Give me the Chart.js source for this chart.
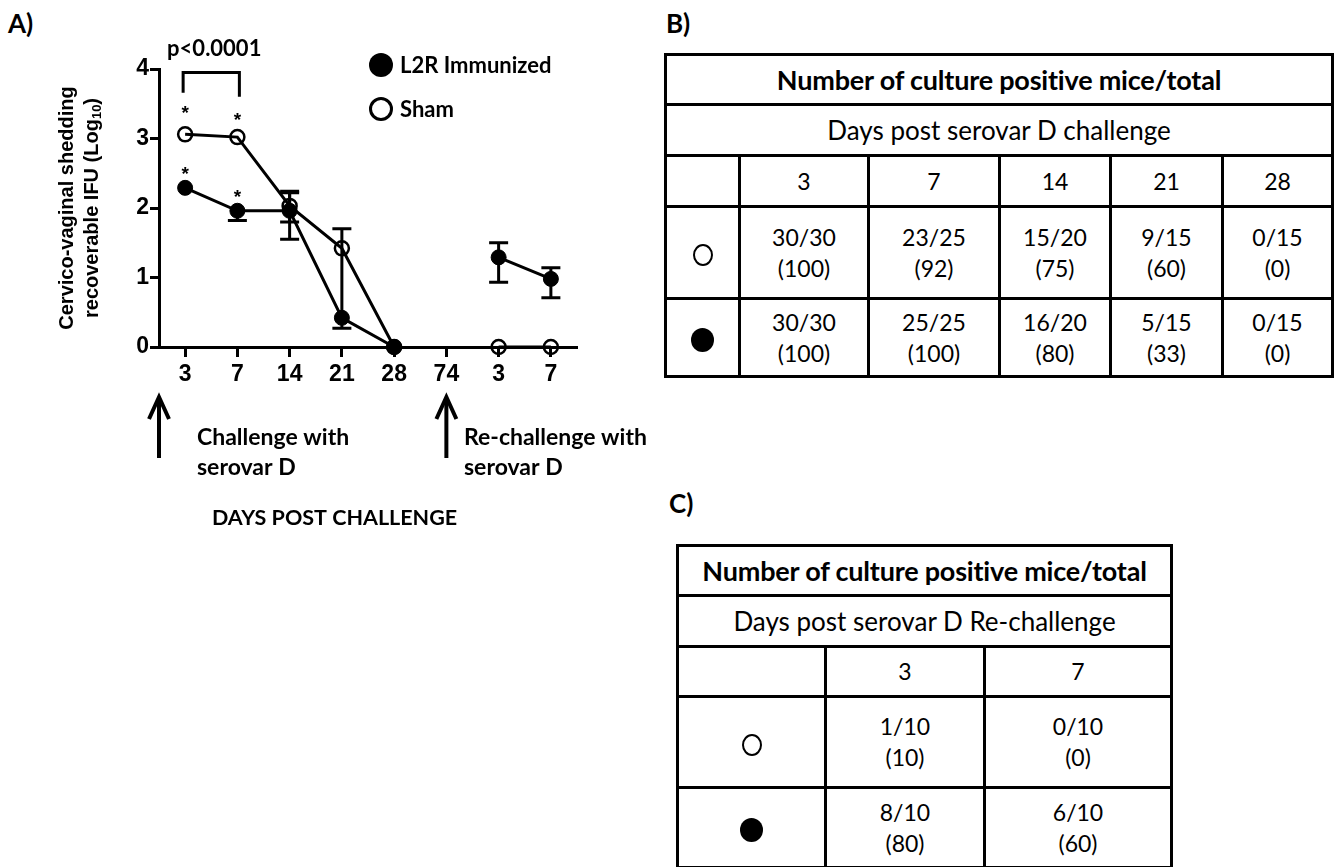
<!DOCTYPE html>
<html>
<head>
<meta charset="utf-8">
<script src="https://cdn.jsdelivr.net/npm/chart.js@4.4.1/dist/chart.umd.min.js"></script>
<style>
  html, body { margin: 0; padding: 0; background: #fff; }
  body { width: 1335px; height: 867px; position: relative; overflow: hidden; }
  .panel { position: absolute; font-family: Lato, sans-serif; font-weight: bold; font-size: 26px; color: #000; line-height: 1; }
  #chartBox { position: absolute; left: 0; top: 0; width: 660px; height: 545px; }
  table.counts { position: absolute; border-collapse: collapse; table-layout: fixed; font-family: Lato, sans-serif; font-size: 23px; color: #000; }
  table.counts td { border: 3px solid #000; text-align: center; vertical-align: middle; padding: 0; line-height: 31px; }
  table.counts td.title { font-weight: bold; font-size: 27px; letter-spacing: -0.2px; }
  table.counts td.subtitle { font-size: 26px; }
  .sym-open { display: inline-block; width: 16px; height: 18px; border: 2.5px solid #000; border-radius: 50%; vertical-align: middle; }
  .sym-fill { display: inline-block; width: 23px; height: 24px; background: #000; border-radius: 50%; vertical-align: middle; }
</style>
</head>
<body>
<div class="panel" style="left:8px; top:10px;">A)</div>
<div class="panel" style="left:666px; top:10px;">B)</div>
<div class="panel" style="left:669px; top:490px;">C)</div>
<div id="chartBox"><canvas id="chart" width="660" height="545"></canvas></div>
<table class="counts" id="tableB"></table>
<table class="counts" id="tableC"></table>
<script>
// Categories along the x axis (challenge days, then re-challenge days)
const days = ['3', '7', '14', '21', '28', '74', '3', '7'];

// L2R immunized mice: mean shedding (log10 IFU) and error bar ends
const immunizedMean = [2.29, 1.96, 1.96, 0.42, 0, null, 1.29, 0.98];
const immunizedLow  = [null, 1.82, 1.55, null, null, null, 0.93, 0.71];
const immunizedHigh = [null, null, 2.24, null, null, null, 1.50, 1.14];

// Sham mice
const shamMean = [3.06, 3.02, 2.03, 1.42, 0, null, 0, 0];
const shamLow  = [null, null, 1.80, 0.27, null, null, null, null];
const shamHigh = [null, null, 2.22, 1.70, null, null, null, null];

const yTicks = [0, 1, 2, 3, 4];

// Culture positive mice after challenge (table B)
const challengeDays = ['3', '7', '14', '21', '28'];
const shamPositiveB = ['30/30', '23/25', '15/20', '9/15', '0/15'];
const shamPercentB = [100, 92, 75, 60, 0];
const immPositiveB = ['30/30', '25/25', '16/20', '5/15', '0/15'];
const immPercentB = [100, 100, 80, 33, 0];

// Culture positive mice after re-challenge (table C)
const rechallengeDays = ['3', '7'];
const shamPositiveC = ['1/10', '0/10'];
const shamPercentC = [10, 0];
const immPositiveC = ['8/10', '6/10'];
const immPercentC = [80, 60];

const BLACK = '#000';
const LABEL_FONT = 'Lato, sans-serif';
const AXIS_FONT = '"Liberation Sans", Arial, sans-serif';

// Vertical error bars with caps, drawn underneath the markers
const errorBars = {
  id: 'errorBars',
  beforeDatasetsDraw(chart) {
    const { ctx, scales: { x, y } } = chart;
    const groups = [
      [immunizedMean, immunizedLow, immunizedHigh],
      [shamMean, shamLow, shamHigh]
    ];
    ctx.save();
    ctx.strokeStyle = BLACK;
    ctx.lineWidth = 3;
    groups.forEach(([mean, low, high]) => {
      mean.forEach((v, i) => {
        if (v == null) return;
        const top = high[i] ?? v, bottom = low[i] ?? v;
        if (top === bottom) return;
        const px = x.getPixelForValue(i);
        ctx.beginPath();
        ctx.moveTo(px, y.getPixelForValue(top));
        ctx.lineTo(px, y.getPixelForValue(bottom));
        [high[i], low[i]].forEach(e => {
          if (e == null) return;
          const py = y.getPixelForValue(e);
          ctx.moveTo(px - 9.5, py);
          ctx.lineTo(px + 9.5, py);
        });
        ctx.stroke();
      });
    });
    ctx.restore();
  }
};

// Significance marks, legend, axis title and challenge arrows
const annotations = {
  id: 'annotations',
  afterDraw(chart) {
    const { ctx, chartArea: area, scales: { x, y } } = chart;
    ctx.save();
    ctx.fillStyle = BLACK;
    ctx.strokeStyle = BLACK;

    // asterisks over the day 3 and day 7 points
    const stars = [
      { ds: 1, i: 0, dy: 25 }, { ds: 1, i: 1, dy: 21 },
      { ds: 0, i: 0, dy: 18 }, { ds: 0, i: 1, dy: 18 }
    ];
    ctx.font = 'bold 19px ' + AXIS_FONT;
    ctx.textAlign = 'center';
    ctx.textBaseline = 'alphabetic';
    stars.forEach(s => {
      const p = chart.getDatasetMeta(s.ds).data[s.i];
      ctx.fillText('*', p.x, p.y - s.dy + 10);
    });

    // bracket between day 3 and day 7
    const bx1 = x.getPixelForValue(0) - 2, bx2 = x.getPixelForValue(1) + 2;
    ctx.lineWidth = 3;
    ctx.lineJoin = 'miter';
    ctx.beginPath();
    ctx.moveTo(bx1, y.getPixelForValue(3.66));
    ctx.lineTo(bx1, y.getPixelForValue(3.95));
    ctx.lineTo(bx2, y.getPixelForValue(3.95));
    ctx.lineTo(bx2, y.getPixelForValue(3.60));
    ctx.stroke();
    ctx.font = 'bold 22px ' + LABEL_FONT;
    ctx.textBaseline = 'middle';
    ctx.fillText('p<0.0001', (bx1 + bx2) / 2 + 3, 49);

    // legend
    ctx.textAlign = 'left';
    ctx.beginPath();
    ctx.arc(381, 65, 12, 0, Math.PI * 2);
    ctx.fill();
    ctx.fillText('L2R Immunized', 400, 66);
    ctx.beginPath();
    ctx.lineWidth = 3;
    ctx.arc(381, 109, 10.5, 0, Math.PI * 2);
    ctx.stroke();
    ctx.fillText('Sham', 400, 110);

    // y axis title (two rotated lines)
    const cy = (area.top + area.bottom) / 2;
    ctx.save();
    ctx.translate(67, cy);
    ctx.rotate(-Math.PI / 2);
    ctx.textAlign = 'center';
    ctx.textBaseline = 'middle';
    ctx.font = 'bold 20px ' + AXIS_FONT;
    ctx.fillText('Cervico-vaginal shedding', 0, 0);
    ctx.restore();
    ctx.save();
    ctx.translate(92, cy);
    ctx.rotate(-Math.PI / 2);
    ctx.textBaseline = 'middle';
    const main = 'recoverable IFU (Log', sub = '10', tail = ')';
    ctx.font = 'bold 20px ' + AXIS_FONT;
    const wMain = ctx.measureText(main).width, wTail = ctx.measureText(tail).width;
    ctx.font = 'bold 13px ' + AXIS_FONT;
    const wSub = ctx.measureText(sub).width;
    const tx = -(wMain + wSub + wTail) / 2;
    ctx.textAlign = 'left';
    ctx.font = 'bold 20px ' + AXIS_FONT;
    ctx.fillText(main, tx, 0);
    ctx.font = 'bold 13px ' + AXIS_FONT;
    ctx.fillText(sub, tx + wMain, 5);
    ctx.font = 'bold 20px ' + AXIS_FONT;
    ctx.fillText(tail, tx + wMain + wSub, 0);
    ctx.restore();

    // challenge / re-challenge arrows
    const arrow = (ax) => {
      ctx.lineWidth = 4;
      ctx.beginPath();
      ctx.moveTo(ax, 458);
      ctx.lineTo(ax, 398);
      ctx.stroke();
      ctx.beginPath();
      ctx.moveTo(ax - 10, 419);
      ctx.lineTo(ax, 397);
      ctx.lineTo(ax + 10, 419);
      ctx.stroke();
    };
    arrow(area.left);
    arrow(x.getPixelForValue(5));

    ctx.font = 'bold 23px ' + LABEL_FONT;
    ctx.textAlign = 'left';
    ctx.textBaseline = 'middle';
    ctx.fillText('Challenge with', 197, 438);
    ctx.fillText('serovar D', 197, 468);
    ctx.fillText('Re-challenge with', 464, 438);
    ctx.fillText('serovar D', 464, 468);
    ctx.font = 'bold 21.5px ' + LABEL_FONT;
    ctx.fillText('DAYS POST CHALLENGE', 212, 518);
    ctx.restore();
  }
};

new Chart(document.getElementById('chart'), {
  type: 'line',
  data: {
    labels: days,
    datasets: [
      {
        label: 'L2R Immunized', data: immunizedMean, order: 0, clip: false,
        borderColor: BLACK, borderWidth: 3, tension: 0, spanGaps: false,
        pointRadius: 7.5, pointBackgroundColor: BLACK, pointBorderColor: BLACK, pointBorderWidth: 1
      },
      {
        label: 'Sham', data: shamMean, order: 1, clip: false,
        borderColor: BLACK, borderWidth: 3, tension: 0, spanGaps: false,
        pointRadius: 7, pointBackgroundColor: 'rgba(0,0,0,0)', pointBorderColor: BLACK, pointBorderWidth: 2.5
      }
    ]
  },
  options: {
    responsive: false,
    animation: false,
    events: [],
    layout: { padding: { left: 0, top: 69, right: 83, bottom: 0 } },
    plugins: { legend: { display: false }, tooltip: { enabled: false } },
    scales: {
      x: {
        type: 'category',
        offset: true,
        grid: { display: true, drawOnChartArea: false, drawTicks: true, tickLength: 10, tickWidth: 3, tickColor: BLACK, offset: false },
        border: { display: true, width: 3, color: BLACK },
        ticks: { color: BLACK, font: { family: AXIS_FONT, weight: 'bold', size: 23 }, padding: 4, maxRotation: 0, autoSkip: false },
        afterFit(s) { s.height = 198; }
      },
      y: {
        min: 0, max: 4,
        afterBuildTicks(s) { s.ticks = yTicks.map(v => ({ value: v })); },
        grid: { display: true, drawOnChartArea: false, drawTicks: true, tickLength: 9, tickWidth: 3, tickColor: BLACK },
        border: { display: true, width: 3, color: BLACK },
        ticks: { color: BLACK, font: { family: AXIS_FONT, weight: 'bold', size: 23 }, padding: 1 },
        afterFit(s) { s.width = 159; }
      }
    }
  },
  plugins: [errorBars, annotations]
});

// Count tables
function buildTable(el, opts) {
  const cols = opts.colWidths.map(w => `<col style="width:${w}px">`).join('');
  const n = opts.days.length;
  const symOpen = '<span class="sym-open"></span>';
  const symFill = '<span class="sym-fill"></span>';
  const cells = (pos, pct) => pos.map((p, i) => `<td>${p}<br>(${pct[i]})</td>`).join('');
  el.style.left = opts.left + 'px';
  el.style.top = opts.top + 'px';
  el.style.width = opts.colWidths.reduce((a, b) => a + b, 0) + 'px';
  el.innerHTML = `<colgroup>${cols}</colgroup>
    <tr style="height:${opts.rowHeights[0]}px"><td class="title" colspan="${n + 1}">Number of culture positive mice/total</td></tr>
    <tr style="height:${opts.rowHeights[1]}px"><td class="subtitle" colspan="${n + 1}">${opts.subtitle}</td></tr>
    <tr style="height:${opts.rowHeights[2]}px"><td></td>${opts.days.map(d => `<td>${d}</td>`).join('')}</tr>
    <tr style="height:${opts.rowHeights[3]}px"><td>${symOpen}</td>${cells(opts.shamPos, opts.shamPct)}</tr>
    <tr style="height:${opts.rowHeights[4]}px"><td>${symFill}</td>${cells(opts.immPos, opts.immPct)}</tr>`;
}

buildTable(document.getElementById('tableB'), {
  left: 664, top: 53,
  colWidths: [74, 129, 131, 111, 112, 110],
  rowHeights: [50, 51, 51, 92, 78],
  subtitle: 'Days post serovar D challenge',
  days: challengeDays,
  shamPos: shamPositiveB, shamPct: shamPercentB,
  immPos: immPositiveB, immPct: immPercentB
});

buildTable(document.getElementById('tableC'), {
  left: 676, top: 544,
  colWidths: [148, 159, 187],
  rowHeights: [50, 51, 50, 91, 80],
  subtitle: 'Days post serovar D Re-challenge',
  days: rechallengeDays,
  shamPos: shamPositiveC, shamPct: shamPercentC,
  immPos: immPositiveC, immPct: immPercentC
});
</script>
</body>
</html>
